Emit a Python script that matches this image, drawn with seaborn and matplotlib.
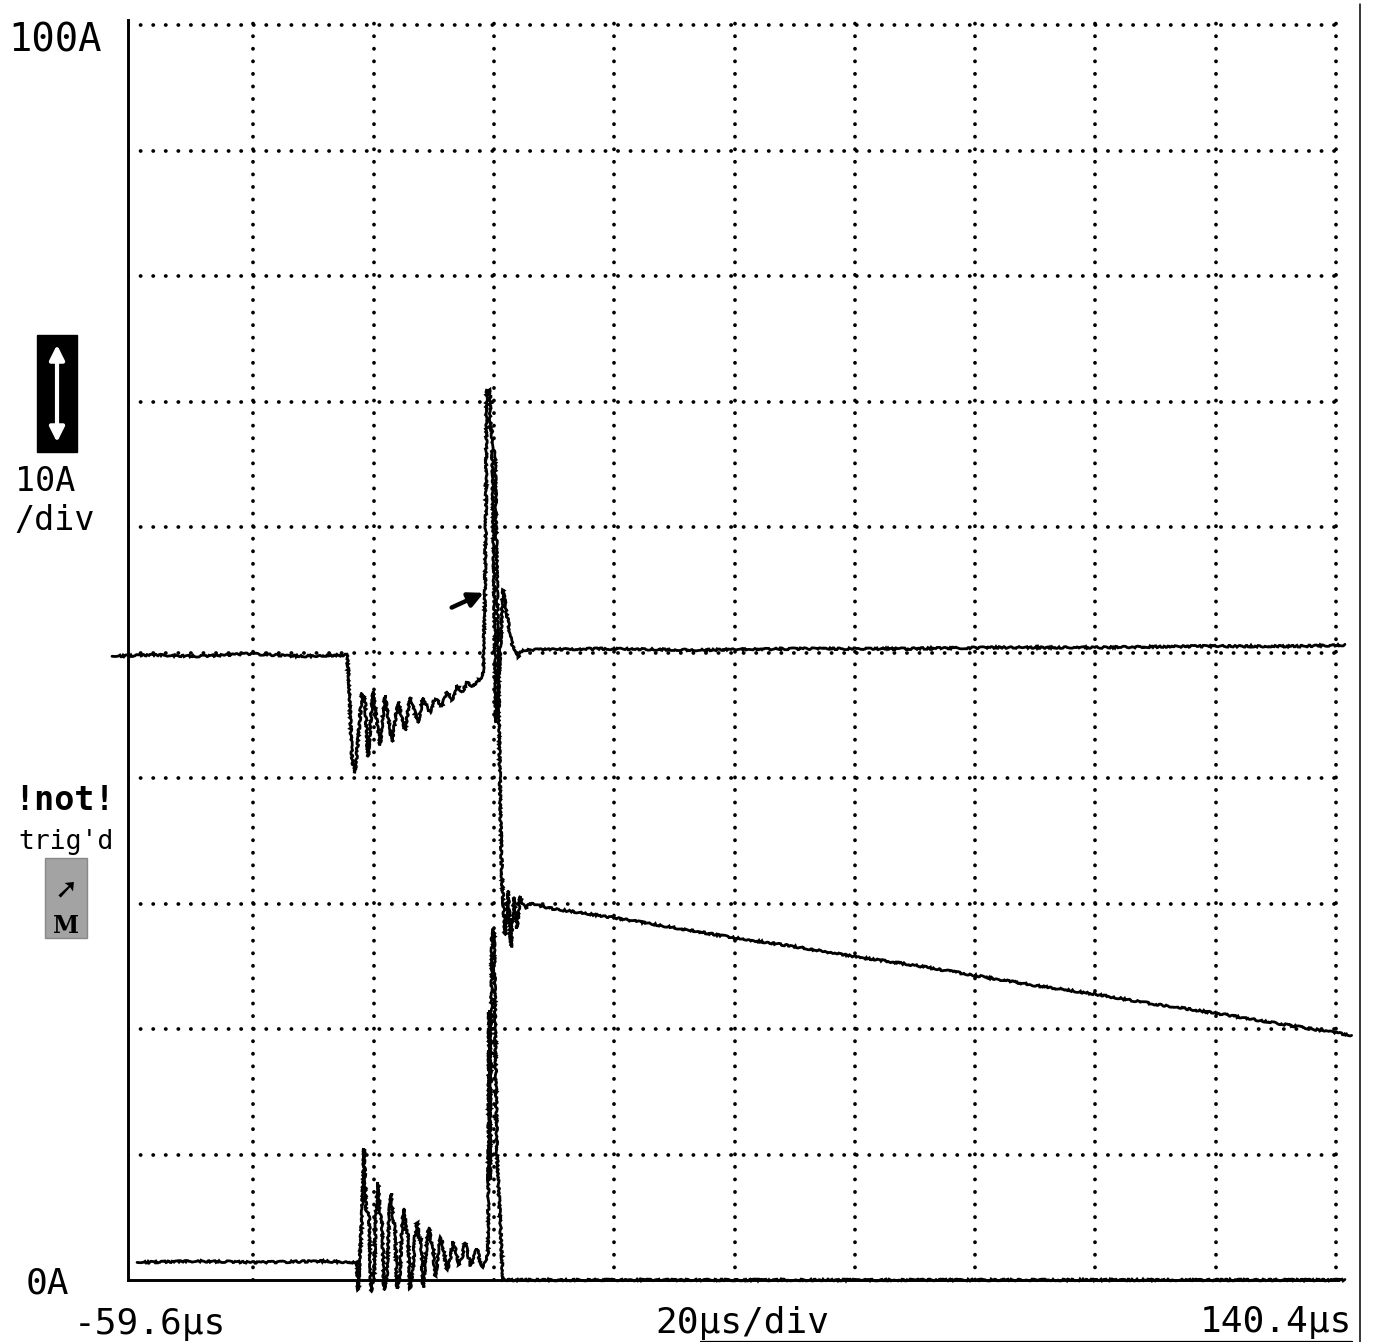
import matplotlib
matplotlib.use("Agg")
import matplotlib.pyplot as plt
from matplotlib.patches import Rectangle, FancyArrowPatch
from matplotlib.lines import Line2D
import pandas as pd
import seaborn as sns

# ---- screen settings -------------------------------------------------------
T_LEFT, T_RIGHT = -59.6, 140.4      # µs at the left / right screen edge
T_PER_DIV = 20.0                    # µs per division
A_BOTTOM, A_TOP = 0.0, 100.0        # A at bottom / top of screen
A_PER_DIV = 10.0

# ---- channel 1: upper trace (offset display) -------------------------------
ch1_t = [-63.09, -56.77, -48.46, -40.15, -31.83, -24.02, -23.69, -23.19, -22.69,
         -22.19, -21.53, -21.03, -20.53, -19.70, -18.53, -17.70, -16.54, -15.54,
         -14.38, -13.55, -12.22, -11.38, -10.22, -9.39, -8.23, -7.40, -6.56,
         -5.73, -4.90, -4.07, -3.07, -1.41, -1.25, -1.08, -0.91, -0.83, -0.25,
         -0.17, 0.08, 0.74, 1.24, 1.91, 2.57, 3.24, 3.74, 4.40, 5.07, 18.04,
         34.66, 51.29, 67.91, 84.54, 101.16, 117.79, 134.41, 141.89]
ch1_a = [49.7, 49.8, 49.7, 49.9, 49.7, 49.8, 47.6, 41.4, 40.4,
         43.0, 46.8, 46.2, 41.7, 46.9, 42.6, 46.6, 42.9, 46.1,
         43.8, 46.4, 44.4, 46.4, 45.2, 46.4, 45.7, 46.9, 46.2,
         47.4, 46.8, 47.6, 47.3, 48.2, 51.0, 54.8, 62.0, 70.9, 70.9,
         67.7, 67.7, 44.4, 48.0, 55.0, 53.0, 51.0, 50.2, 49.6, 50.2, 50.3,
         50.2, 50.3, 50.3, 50.4, 50.4, 50.5, 50.5, 50.6]

# ---- channel 2: lower trace ------------------------------------------------
ch2_t = [-58.93, -48.46, -38.60, -28.62, -22.36, -22.19,
         -21.53, -21.19, -20.86, -20.36, -20.03, -19.53,
         -19.20, -18.87, -18.53, -18.20, -17.87, -17.37,
         -17.04, -16.71, -16.37, -16.04, -15.71, -15.21,
         -14.88, -14.55, -14.21, -13.88, -13.55, -13.05,
         -12.72, -12.39, -12.05, -11.72, -11.38, -11.05,
         -10.72, -10.39, -10.05, -9.72, -9.39, -9.06,
         -8.73, -8.39, -8.06, -7.73, -7.40, -6.90,
         -6.40, -5.90, -5.40, -4.90, -4.40, -3.90,
         -3.41, -2.91, -2.41, -1.91, -1.41, -0.91,
         -0.58, -0.41, -0.25, 0.08, 0.41, 0.91, 1.91, 141.89]
ch2_a = [1.4, 1.5, 1.4, 1.5, 1.4, -0.8,
         5.0, 10.5, 5.6, 5.4, -0.9, 0.3,
         5.5, 7.8, 5.2, 4.8, -0.8, 0.5,
         5.0, 6.9, 4.8, 4.3, -0.7, 0.6,
         4.3, 5.7, 4.0, 3.6, -0.7, 0.8,
         3.5, 4.6, 3.4, 3.2, -0.6, 1.0,
         3.2, 4.2, 3.0, 2.8, 0.3, 1.2,
         2.8, 3.4, 2.6, 1.8, 0.8, 1.5,
         3.1, 2.3, 1.2, 1.8, 3.0, 2.0,
         1.1, 1.9, 2.5, 1.5, 1.0, 1.6,
         2.2, 21.5, 8.0, 27.5, 28.0, 10.0, 0.0, 0.0]

# ---- channel 3: decaying current after switch-off --------------------------
ch3_t = [0.58, 1.10, 1.45, 1.75, 2.25, 2.75, 3.24, 3.74, 4.23, 4.73, 5.57,
         6.40, 10.0, 20.0, 30.0, 40.0, 50.0, 60.0, 70.0, 80.0, 90.0, 100.0,
         110.0, 120.0, 130.0, 143.0]
ch3_a = [66.0, 50.0, 38.0, 32.0, 27.5, 31.0, 26.5, 30.5, 28.0, 30.6, 29.6,
         30.0, 29.6, 28.9, 28.1, 27.3, 26.6, 25.8, 25.1, 24.3, 23.5, 22.8,
         22.0, 21.3, 20.5, 19.5]

# ---- figure geometry (pixels of the 1375 x 1342 canvas) --------------------
W, H = 1375, 1342
PX_PER_DIV_X, PX_PER_DIV_Y = 120.3, 125.5
SCREEN_X0 = 133          # pixel column of T_LEFT
SCREEN_Y0 = 1280         # pixel row of A_BOTTOM


def t_of_px(px):
    return T_LEFT + (px - SCREEN_X0) * T_PER_DIV / PX_PER_DIV_X


def a_of_py(py):
    return A_BOTTOM + (SCREEN_Y0 - py) * A_PER_DIV / PX_PER_DIV_Y


def fx(px):
    return px / W


def fy(py):
    return 1 - py / H


sns.set_theme(style="white")
plt.rcParams["font.family"] = ["DejaVu Sans Mono", "DejaVu Sans"]

fig = plt.figure(figsize=(W / 100, H / 100), dpi=100)
fig.patch.set_facecolor("white")

ax_l, ax_r, ax_t = 128, 1338, 20
ax = fig.add_axes([fx(ax_l), fy(SCREEN_Y0), (ax_r - ax_l) / W, (SCREEN_Y0 - ax_t) / H])
ax.set_facecolor("white")
ax.set_xlim(t_of_px(ax_l), t_of_px(ax_r))
ax.set_ylim(A_BOTTOM, a_of_py(ax_t))

# dotted graticule at every division
ax.set_xticks([T_LEFT + T_PER_DIV * k for k in range(1, 11)])
ax.set_yticks([A_BOTTOM + A_PER_DIV * k for k in range(1, 11)])
ax.tick_params(length=0, labelbottom=False, labelleft=False)
ax.grid(True, color="black", linewidth=2.7, linestyle=(0, (0.05, 3.3)),
        dash_capstyle="round")
ax.set_axisbelow(True)

for side in ("top", "right"):
    ax.spines[side].set_visible(False)
ax.spines["left"].set_color("black")
ax.spines["left"].set_linewidth(2.1)
ax.spines["bottom"].set_color("black")
ax.spines["bottom"].set_linewidth(2.1)

# traces
traces = [
    pd.DataFrame({"t": ch1_t, "a": ch1_a}),
    pd.DataFrame({"t": ch2_t, "a": ch2_a}),
    pd.DataFrame({"t": ch3_t, "a": ch3_a}),
]
for df in traces:
    sns.lineplot(data=df, x="t", y="a", ax=ax, color="black", linewidth=2.0,
                 sort=False, estimator=None, legend=False)
for line in ax.lines:
    line.set_clip_on(False)
    line.set_sketch_params(scale=0.9, length=5, randomness=12)
    line.set_solid_joinstyle("miter")
ax.set_xlabel("")
ax.set_ylabel("")

# marker arrow at the start of the turn-off edge
i_mark = 33
ax.annotate("", xy=(ch1_t[i_mark], ch1_a[i_mark]), xytext=(-24, -11),
            textcoords="offset points",
            arrowprops=dict(arrowstyle="-|>", color="black", lw=3.2,
                            mutation_scale=22, shrinkA=0, shrinkB=1))

# right screen border
fig.add_artist(Line2D([fx(1360), fx(1360)], [fy(4), fy(1342)], color="black",
                      linewidth=1.1, transform=fig.transFigure))
# underline below the time labels
fig.add_artist(Line2D([fx(700), fx(1352)], [fy(1341), fy(1341)], color="black",
                      linewidth=0.9, transform=fig.transFigure))

# scale and time labels
fig.text(fx(8), fy(51), "100A", fontsize=28, ha="left", va="baseline", color="black")
fig.text(fx(15), fy(491), "10A", fontsize=24, ha="left", va="baseline", color="black")
fig.text(fx(14), fy(530), "/div", fontsize=24, ha="left", va="baseline", color="black")
fig.text(fx(26), fy(1294), "0A", fontsize=26, ha="left", va="baseline", color="black")
fig.text(fx(74), fy(1334), "-59.6µs", fontsize=26, ha="left", va="baseline", color="black")
fig.text(fx(655), fy(1333), "20µs/div", fontsize=26, ha="left", va="baseline", color="black")
fig.text(fx(1352), fy(1332), "140.4µs", fontsize=26, ha="right", va="baseline", color="black")

# trigger status
fig.text(fx(64), fy(810), "!not!", fontsize=24, fontweight="bold", ha="center",
         va="baseline", color="black")
fig.text(fx(66), fy(849), "trig'd", fontsize=19, ha="center", va="baseline", color="black")

# channel marker box (black with white double arrow)
fig.add_artist(Rectangle((fx(37), fy(452)), 40 / W, 117 / H, transform=fig.transFigure,
                         facecolor="black", edgecolor="black"))
fig.add_artist(FancyArrowPatch(
    (fx(57), fy(445)), (fx(57), fy(342)), transform=fig.transFigure,
    arrowstyle="<|-|>", mutation_scale=22, color="white", linewidth=3))

# trigger marker box (stippled grey with arrow and M)
fig.add_artist(Rectangle((fx(45), fy(938)), 42 / W, 80 / H, transform=fig.transFigure,
                         facecolor="#a3a3a3", edgecolor="#888888", linewidth=1))
fig.text(fx(66), fy(897), "➚", fontsize=20, fontweight="bold", ha="center",
         va="baseline", color="black", family=["DejaVu Sans"])
fig.text(fx(66), fy(933), "M", fontsize=17, fontweight="bold", ha="center",
         va="baseline", color="black", family=["DejaVu Serif"])

fig.savefig("out.png", dpi=100, facecolor="white")
